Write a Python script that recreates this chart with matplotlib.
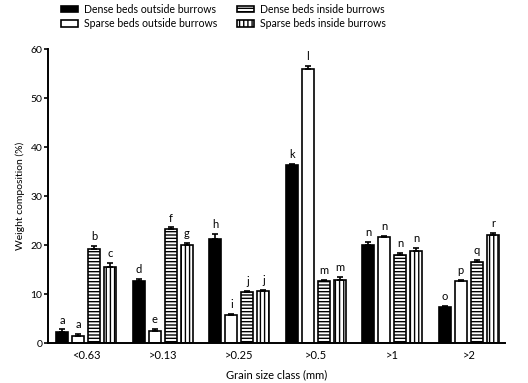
import numpy as np
import matplotlib
matplotlib.use("Agg")
import matplotlib.pyplot as plt
from matplotlib.patches import Patch

plt.rcParams['font.family'] = ['Lato', 'DejaVu Sans']
plt.rcParams['hatch.linewidth'] = 1.0

classes = ["<0.63", ">0.13", ">0.25", ">0.5", ">1", ">2"]
series = ["Dense beds outside burrows", "Sparse beds outside burrows",
          "Dense beds inside burrows", "Sparse beds inside burrows"]

dense_out = [2.2, 12.7, 21.3, 36.4, 20.0, 7.4]
sparse_out = [1.5, 2.5, 5.8, 56.0, 21.7, 12.7]
dense_in = [19.2, 23.3, 10.5, 12.6, 17.9, 16.5]
sparse_in = [15.6, 20.1, 10.7, 12.9, 18.9, 22.0]

dense_out_err = [0.6, 0.4, 1.0, 0.2, 0.6, 0.2]
sparse_out_err = [0.3, 0.4, 0.2, 0.5, 0.2, 0.2]
dense_in_err = [0.6, 0.3, 0.2, 0.2, 0.5, 0.4]
sparse_in_err = [0.8, 0.4, 0.2, 0.6, 0.5, 0.5]

letters = [
    ["a", "d", "h", "k", "n", "o"],
    ["a", "e", "i", "l", "n", "p"],
    ["b", "f", "j", "m", "n", "q"],
    ["c", "g", "j", "m", "n", "r"],
]

values = [dense_out, sparse_out, dense_in, sparse_in]
errors = [dense_out_err, sparse_out_err, dense_in_err, sparse_in_err]
styles = [
    dict(color="black", hatch=None),
    dict(color="white", hatch=None),
    dict(color="white", hatch="-----"),
    dict(color="white", hatch="||||"),
]

fig = plt.figure(figsize=(5.28, 3.83), dpi=100)
ax = fig.add_axes([0.091, 0.104, 0.865, 0.768])

x = np.arange(len(classes))
width = 0.155
step = 0.21
offsets = (np.arange(4) - 1.5) * step

for i in range(4):
    pos = x + offsets[i]
    ax.bar(pos, values[i], width, facecolor=styles[i]["color"], edgecolor="black",
           linewidth=1.2, hatch=styles[i]["hatch"], zorder=2)
    ax.errorbar(pos, values[i], yerr=[np.zeros(len(classes)), errors[i]], fmt="none",
                ecolor="black", elinewidth=1.2, capsize=2.5, capthick=1.2, zorder=3)
    for p, v, e, lab in zip(pos, values[i], errors[i], letters[i]):
        ax.text(p, v + e + 0.8, lab, ha="center", va="bottom", fontsize=8)

ax.set_xlim(-0.5, 5.47)
ax.set_ylim(0, 60)
ax.set_yticks(range(0, 61, 10))
ax.set_xticks(x)
ax.set_xticklabels(classes)
ax.tick_params(axis="x", length=0, labelsize=8, pad=5)
ax.tick_params(axis="y", length=3, width=1.2, labelsize=7.5, pad=1)
for s in ["top", "right"]:
    ax.spines[s].set_visible(False)
for s in ["left", "bottom"]:
    ax.spines[s].set_linewidth(1.4)

ax.set_xlabel("Grain size class (mm)", fontsize=8, labelpad=6)
ax.set_ylabel("Weight composition (%)", fontsize=7.5, labelpad=4)

handles = [Patch(facecolor=styles[i]["color"], edgecolor="black", linewidth=1.2,
                 hatch=styles[i]["hatch"], label=series[i]) for i in range(4)]
fig.legend(handles=handles, ncol=2, loc="upper left", bbox_to_anchor=(0.097, 1.015),
           frameon=False, fontsize=7.6, handlelength=1.6, handleheight=0.6,
           columnspacing=1.9, labelspacing=0.35, handletextpad=0.6)

fig.savefig("out.png", dpi=100)
